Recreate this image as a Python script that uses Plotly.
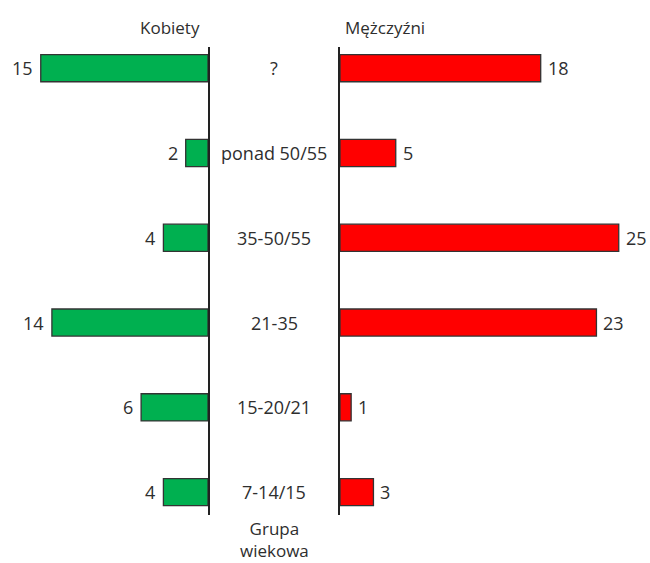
import plotly.graph_objects as go

categories = ["7-14/15", "15-20/21", "21-35", "35-50/55", "ponad 50/55", "?"]
kobiety = [4, 6, 14, 4, 2, 15]
mezczyzni = [3, 1, 23, 25, 5, 18]
title_left = "Kobiety"
title_right = "Mężczyźni"
axis_title = "Grupa<br>wiekowa"

W, H = 650, 563
FONT = "Open Sans"
TXT = "#2e2e2e"
FS = 18
px_per_unit = 11.15

def fx(p):
    return p / W

def fy(p):
    return (H - p) / H

fig = go.Figure()
fig.add_trace(go.Bar(
    y=categories, x=kobiety, orientation="h", xaxis="x", yaxis="y",
    marker=dict(color="#00B050", line=dict(color="#333333", width=1.3)),
    width=0.32, showlegend=False, hoverinfo="skip"))
fig.add_trace(go.Bar(
    y=categories, x=mezczyzni, orientation="h", xaxis="x2", yaxis="y2",
    marker=dict(color="#FF0000", line=dict(color="#333333", width=1.3)),
    width=0.32, showlegend=False, hoverinfo="skip"))

ydom = [fy(515), fy(47)]
yrange = [-0.27, 5.25]
left_px = 208
right_px = 340

fig.update_layout(
    width=W, height=H, margin=dict(l=0, r=0, t=0, b=0),
    paper_bgcolor="white", plot_bgcolor="white",
    xaxis=dict(domain=[0, fx(left_px)], range=[left_px / px_per_unit, 0],
               visible=False),
    xaxis2=dict(domain=[fx(right_px), 1], range=[0, (W - right_px) / px_per_unit],
                visible=False),
    yaxis=dict(domain=ydom, anchor="x", side="right", type="category",
               categoryorder="array", categoryarray=categories, range=yrange,
               showline=True, linecolor="#222", linewidth=2,
               showticklabels=False, ticks="", showgrid=False, zeroline=False),
    yaxis2=dict(domain=ydom, anchor="x2", side="left", type="category",
                categoryorder="array", categoryarray=categories, range=yrange,
                showline=True, linecolor="#222", linewidth=2,
                showticklabels=False, ticks="", showgrid=False, zeroline=False),
)

# value labels
for c, v in zip(categories, kobiety):
    fig.add_annotation(x=v, xref="x", y=c, yref="y", text=str(v),
                       showarrow=False, xanchor="right", yanchor="middle", xshift=-6,
                       font=dict(family=FONT, size=FS, color=TXT))
for c, v in zip(categories, mezczyzni):
    fig.add_annotation(x=v, xref="x2", y=c, yref="y2", text=str(v),
                       showarrow=False, xanchor="left", yanchor="middle", xshift=5,
                       font=dict(family=FONT, size=FS, color=TXT))

mid_x = fx(274)
for c in categories:
    fig.add_annotation(x=mid_x, xref="paper", y=c, yref="y", text=c,
                       showarrow=False, xanchor="center", yanchor="middle",
                       font=dict(family=FONT, size=FS, color=TXT))

fig.add_annotation(x=fx(170), xref="paper", y=fy(27), yref="paper",
                   text=title_left, showarrow=False, xanchor="center", yanchor="middle",
                   font=dict(family=FONT, size=FS - 1, color=TXT))
fig.add_annotation(x=fx(385), xref="paper", y=fy(27), yref="paper",
                   text=title_right, showarrow=False, xanchor="center", yanchor="middle",
                   font=dict(family=FONT, size=FS - 1, color=TXT))
fig.add_annotation(x=fx(274), xref="paper", y=fy(539), yref="paper",
                   text=axis_title, showarrow=False, xanchor="center", yanchor="middle",
                   font=dict(family=FONT, size=FS - 1, color=TXT))

fig.write_html("out.html",
               config={"displayModeBar": False, "staticPlot": True},
               post_script="document.body.style.margin='0';document.body.style.overflow='hidden';")
